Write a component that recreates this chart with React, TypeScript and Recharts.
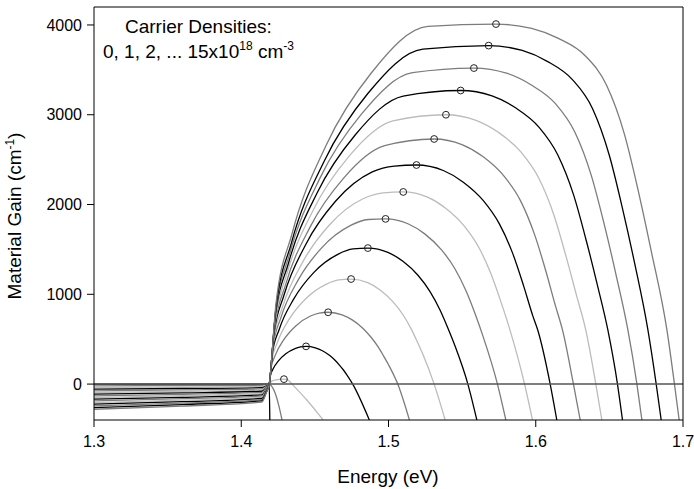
import { ComposedChart, Line, ReferenceLine, XAxis, YAxis } from "recharts";

type Pt = [number, number];

// energy (eV), gain (1/cm), one list per carrier density (x10^18 cm^-3)
const n0: Pt[] = [[1.3, 0], [1.36, 0], [1.414, 0], [1.4168, 0], [1.419, 0], [1.4194, -400]];
const n1: Pt[] = [[1.3, -19], [1.36, -16], [1.414, -13], [1.4168, -7], [1.419, 0], [1.4205, -20], [1.423, -100], [1.4255, -240], [1.4277, -400]];
const n2: Pt[] = [[1.3, -37], [1.36, -33], [1.414, -27], [1.4168, -14], [1.419, 0], [1.4205, 30], [1.4235, 47], [1.429, 55], [1.432, 42], [1.4345, 0], [1.4447, -180], [1.453, -345], [1.4556, -400]];
const n3: Pt[] = [[1.3, -56], [1.36, -49], [1.414, -40], [1.4168, -21], [1.419, 0], [1.41975, 91], [1.4215, 166], [1.42525, 259], [1.43025, 338], [1.4365, 396], [1.44025, 414], [1.444, 420], [1.4503, 404], [1.4551, 371], [1.4599, 320], [1.4637, 265], [1.4668, 209], [1.4694, 157], [1.4716, 106], [1.4757, 0], [1.487, -400]];
const n4: Pt[] = [[1.3, -75], [1.36, -65], [1.414, -53], [1.4168, -28], [1.419, 0], [1.4202, 174], [1.423, 317], [1.429, 497], [1.437, 648], [1.447, 758], [1.453, 791], [1.459, 800], [1.4685, 771], [1.4756, 712], [1.4827, 620], [1.4883, 519], [1.4931, 411], [1.4968, 309], [1.5002, 210], [1.5063, 0], [1.5142, -400]];
const n5: Pt[] = [[1.3, -94], [1.36, -82], [1.414, -67], [1.4168, -35], [1.419, 0], [1.4207, 255], [1.4246, 466], [1.4329, 731], [1.444, 953], [1.4579, 1113], [1.4663, 1160], [1.4746, 1170], [1.4859, 1131], [1.4943, 1049], [1.5028, 921], [1.5096, 778], [1.5152, 621], [1.5197, 467], [1.5237, 319], [1.531, 0], [1.5385, -400]];
const n6: Pt[] = [[1.3, -112], [1.36, -98], [1.414, -80], [1.4168, -42], [1.419, 0], [1.421, 331], [1.4257, 606], [1.4358, 952], [1.4492, 1242], [1.4659, 1448], [1.476, 1505], [1.486, 1515], [1.4996, 1467], [1.5098, 1368], [1.52, 1212], [1.5281, 1033], [1.5349, 828], [1.5403, 625], [1.5451, 428], [1.5539, 0], [1.56, -400]];
const n7: Pt[] = [[1.3, -131], [1.36, -114], [1.414, -93], [1.4168, -49], [1.419, 0], [1.4214, 403], [1.4269, 739], [1.4388, 1163], [1.4546, 1517], [1.4743, 1767], [1.4862, 1833], [1.498, 1840], [1.5132, 1786], [1.5246, 1673], [1.536, 1495], [1.5451, 1285], [1.5527, 1036], [1.5588, 783], [1.5641, 537], [1.574, 0], [1.5797, -400]];
const n8: Pt[] = [[1.3, -150], [1.36, -130], [1.414, -106], [1.4168, -56], [1.419, 0], [1.4217, 470], [1.4281, 863], [1.4418, 1361], [1.46, 1775], [1.4827, 2064], [1.4964, 2130], [1.51, 2140], [1.5265, 2082], [1.5388, 1959], [1.5512, 1765], [1.5611, 1529], [1.5693, 1239], [1.5759, 938], [1.5817, 646], [1.5924, 0], [1.5978, -400]];
const n9: Pt[] = [[1.3, -168], [1.36, -147], [1.414, -120], [1.4168, -63], [1.419, 0], [1.422, 537], [1.429, 989], [1.444, 1561], [1.464, 2036], [1.489, 2363], [1.504, 2428], [1.519, 2440], [1.5372, 2379], [1.5508, 2249], [1.5644, 2043], [1.5753, 1784], [1.5844, 1453], [1.5916, 1102], [1.598, 760], [1.6014, 600], [1.6098, 0], [1.6143, -400]];
const n10: Pt[] = [[1.3, -187], [1.36, -163], [1.414, -133], [1.4168, -70], [1.419, 0], [1.4224, 602], [1.4302, 1111], [1.447, 1757], [1.4694, 2291], [1.4974, 2655], [1.531, 2730], [1.5499, 2668], [1.5641, 2534], [1.5783, 2319], [1.5897, 2041], [1.5991, 1670], [1.6067, 1268], [1.6133, 877], [1.6182, 600], [1.6256, 0], [1.6302, -400]];
const n11: Pt[] = [[1.3, -206], [1.36, -179], [1.414, -146], [1.4168, -77], [1.419, 0], [1.4226, 663], [1.431, 1227], [1.449, 1942], [1.473, 2533], [1.503, 2931], [1.539, 3000], [1.5594, 2938], [1.5746, 2804], [1.5899, 2586], [1.6021, 2292], [1.6123, 1884], [1.6204, 1433], [1.6276, 993], [1.634, 600], [1.6408, 0], [1.6449, -400]];
const n12: Pt[] = [[1.3, -224], [1.36, -196], [1.414, -160], [1.4168, -84], [1.419, 0], [1.4229, 725], [1.432, 1343], [1.4515, 2129], [1.4775, 2777], [1.51, 3208], [1.549, 3270], [1.5703, 3210], [1.5863, 3077], [1.6023, 2860], [1.615, 2552], [1.6257, 2107], [1.6342, 1605], [1.6417, 1114], [1.649, 600], [1.6555, 0], [1.6589, -400]];
const n13: Pt[] = [[1.3, -243], [1.36, -212], [1.414, -173], [1.4168, -91], [1.419, 0], [1.4232, 782], [1.4329, 1452], [1.4538, 2305], [1.4816, 3006], [1.5163, 3468], [1.558, 3520], [1.5801, 3463], [1.5967, 3334], [1.6134, 3123], [1.6266, 2805], [1.6377, 2325], [1.6466, 1773], [1.6543, 1234], [1.6626, 600], [1.6687, 0], [1.6721, -400]];
const n14: Pt[] = [[1.3, -262], [1.36, -228], [1.414, -186], [1.4168, -98], [1.419, 0], [1.4235, 840], [1.4339, 1562], [1.4563, 2482], [1.4861, 3239], [1.5233, 3730], [1.568, 3770], [1.5908, 3716], [1.6078, 3595], [1.6249, 3391], [1.6386, 3067], [1.6499, 2551], [1.659, 1949], [1.667, 1358], [1.6762, 600], [1.6818, 0], [1.6852, -400]];
const n15: Pt[] = [[1.3, -280], [1.36, -245], [1.414, -200], [1.4168, -105], [1.419, 0], [1.4236, 896], [1.4344, 1669], [1.4575, 2655], [1.4883, 3465], [1.5268, 3985], [1.573, 4010], [1.5972, 3962], [1.6154, 3850], [1.6336, 3657], [1.6481, 3328], [1.6603, 2779], [1.67, 2125], [1.6784, 1484], [1.6891, 600], [1.6942, 0], [1.6974, -400]];

// peak markers (n = 2 ... 15)
const peaks: Pt[] = [
  [1.429, 55], [1.444, 420], [1.459, 800], [1.4746, 1170], [1.486, 1515], [1.498, 1840], [1.51, 2140],
  [1.519, 2440], [1.531, 2730], [1.539, 3000], [1.549, 3270], [1.558, 3520], [1.568, 3770], [1.573, 4010],
];

const xTicks = [1.3, 1.4, 1.5, 1.6, 1.7];
const yTicks = [0, 1000, 2000, 3000, 4000];

const BLACK = "#000000";
const GREY = "#7c7c7c";
const LIGHT = "#bcbcbc";

const curves = [
  { id: "n0", pts: n0, color: BLACK },
  { id: "n1", pts: n1, color: GREY },
  { id: "n2", pts: n2, color: LIGHT },
  { id: "n3", pts: n3, color: BLACK },
  { id: "n4", pts: n4, color: GREY },
  { id: "n5", pts: n5, color: LIGHT },
  { id: "n6", pts: n6, color: BLACK },
  { id: "n7", pts: n7, color: GREY },
  { id: "n8", pts: n8, color: LIGHT },
  { id: "n9", pts: n9, color: BLACK },
  { id: "n10", pts: n10, color: GREY },
  { id: "n11", pts: n11, color: LIGHT },
  { id: "n12", pts: n12, color: BLACK },
  { id: "n13", pts: n13, color: GREY },
  { id: "n14", pts: n14, color: BLACK },
  { id: "n15", pts: n15, color: GREY },
];

const toRows = (pts: Pt[]) => pts.map(([x, g]) => ({ x, g }));

const font = "'Liberation Sans', Arial, Helvetica, sans-serif";

export default function App() {
  return (
    <div style={{ position: "absolute", left: 0, top: 0, width: 694, height: 489, background: "#fff" }}>
      <ComposedChart width={694} height={489} margin={{ top: 7, right: 11, bottom: 29, left: 34 }}>
        <XAxis
          type="number"
          dataKey="x"
          domain={[1.3, 1.7]}
          ticks={xTicks}
          allowDataOverflow
          height={40}
          tickSize={7}
          tickMargin={9}
          axisLine={{ stroke: "#000" }}
          tickLine={{ stroke: "#000" }}
          tick={{ fill: "#000", fontSize: 16, fontFamily: font }}
          tickFormatter={(v: number) => v.toFixed(1)}
        />
        <YAxis
          type="number"
          domain={[-400, 4200]}
          ticks={yTicks}
          allowDataOverflow
          width={60}
          tickSize={7}
          tickMargin={5}
          axisLine={{ stroke: "#000" }}
          tickLine={{ stroke: "#000" }}
          tick={{ fill: "#000", fontSize: 16, fontFamily: font }}
        />
        {curves.map((c) => (
          <Line
            key={c.id}
            data={toRows(c.pts)}
            dataKey="g"
            type="monotone"
            stroke={c.color}
            strokeWidth={1.3}
            dot={false}
            activeDot={false}
            isAnimationActive={false}
          />
        ))}
        <ReferenceLine y={0} stroke="#555" strokeWidth={1.5} />
        <Line
          data={toRows(peaks)}
          dataKey="g"
          stroke="none"
          dot={{ r: 3.4, fill: "none", stroke: "#222", strokeWidth: 1 }}
          activeDot={false}
          isAnimationActive={false}
        />
        <ReferenceLine y={4200} stroke="#000" />
        <ReferenceLine x={1.7} stroke="#000" />
      </ComposedChart>
      <svg
        width={694}
        height={489}
        style={{ position: "absolute", left: 0, top: 0, pointerEvents: "none" }}
        fontFamily={font}
      >
        <text x={125} y={33} fontSize={19} fill="#000">Carrier Densities:</text>
        <text x={103} y={58} fontSize={19} fill="#000">
          0, 1, 2, ... 15x10
          <tspan dy={-8} fontSize={12}>18</tspan>
          <tspan dy={8}> cm</tspan>
          <tspan dy={-8} fontSize={12}>-3</tspan>
        </text>
        <text x={388} y={483} fontSize={19} textAnchor="middle" fill="#000">Energy (eV)</text>
        <text x={21} y={216} fontSize={19} textAnchor="middle" fill="#000" transform="rotate(-90 21 216)">
          Material Gain (cm
          <tspan dy={-7} fontSize={12}>-1</tspan>
          <tspan dy={7}>)</tspan>
        </text>
      </svg>
    </div>
  );
}
